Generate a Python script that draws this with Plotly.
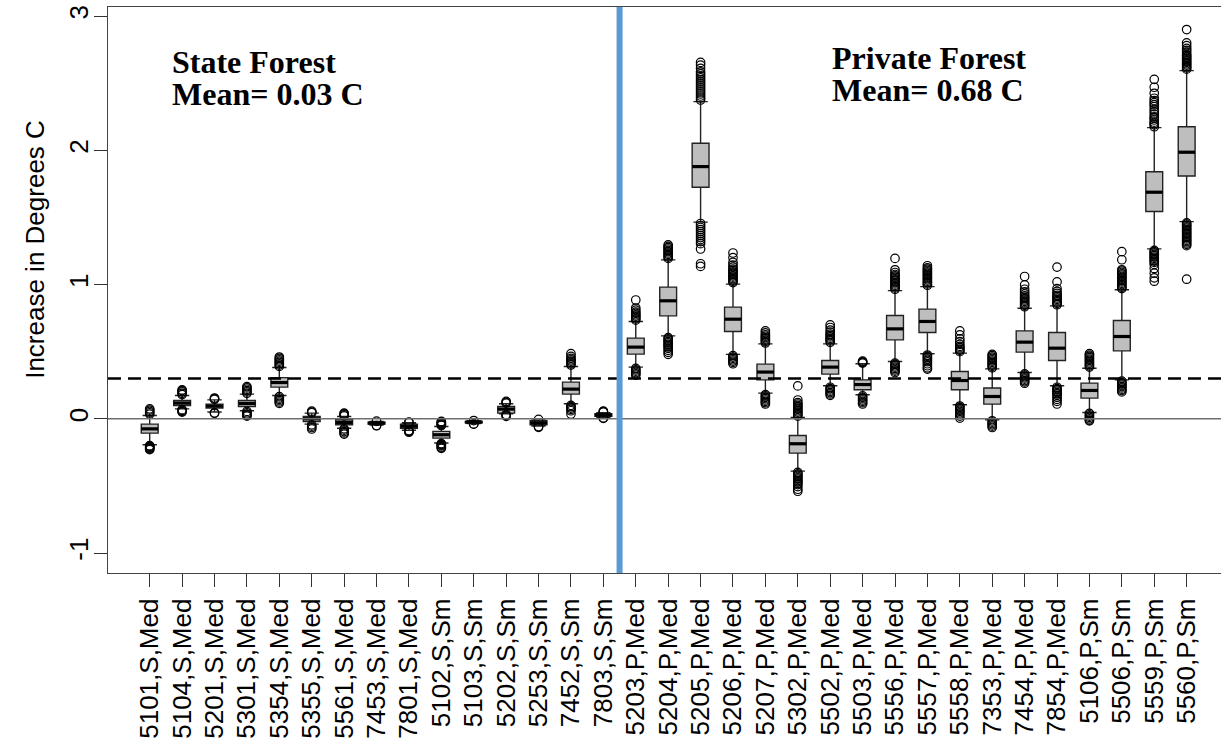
import plotly.graph_objects as go

labels = ["5101,S,Med", "5104,S,Med", "5201,S,Med", "5301,S,Med", "5354,S,Med",
          "5355,S,Med", "5561,S,Med", "7453,S,Med", "7801,S,Med", "5102,S,Sm",
          "5103,S,Sm", "5202,S,Sm", "5253,S,Sm", "7452,S,Sm", "7803,S,Sm",
          "5203,P,Med", "5204,P,Med", "5205,P,Med", "5206,P,Med", "5207,P,Med",
          "5302,P,Med", "5502,P,Med", "5503,P,Med", "5556,P,Med", "5557,P,Med",
          "5558,P,Med", "7353,P,Med", "7454,P,Med", "7854,P,Med", "5106,P,Sm",
          "5506,P,Sm", "5559,P,Sm", "5560,P,Sm"]

q1 = [-0.107, 0.099, 0.080, 0.092, 0.236, -0.020, -0.045, -0.040, -0.070, -0.144,
      -0.030, 0.042, -0.045, 0.184, 0.018,
      0.482, 0.767, 1.725, 0.650, 0.290, -0.256, 0.333, 0.216, 0.588, 0.643,
      0.216, 0.109, 0.497, 0.434, 0.154, 0.506, 1.544, 1.809]
medians = [-0.075, 0.117, 0.095, 0.114, 0.270, 0.000, -0.027, -0.032, -0.055, -0.119,
           -0.025, 0.072, -0.030, 0.221, 0.028,
           0.534, 0.879, 1.879, 0.742, 0.348, -0.186, 0.385, 0.255, 0.670, 0.725,
           0.285, 0.166, 0.571, 0.526, 0.211, 0.613, 1.688, 1.986]
q3 = [-0.040, 0.136, 0.109, 0.136, 0.307, 0.017, -0.007, -0.025, -0.040, -0.094,
      -0.020, 0.092, -0.015, 0.273, 0.038,
      0.601, 0.981, 2.053, 0.832, 0.407, -0.124, 0.434, 0.290, 0.769, 0.817,
      0.352, 0.229, 0.655, 0.643, 0.266, 0.732, 1.841, 2.176]
whisker_low = [-0.194, 0.074, 0.050, 0.060, 0.174, -0.040, -0.070, -0.047, -0.085, -0.180,
               -0.035, 0.037, -0.055, 0.112, 0.010,
               0.385, 0.618, 1.465, 0.480, 0.191, -0.390, 0.246, 0.179, 0.427, 0.484,
               0.104, -0.007, 0.345, 0.246, 0.047, 0.290, 1.266, 1.469]
whisker_high = [0.025, 0.174, 0.141, 0.184, 0.382, 0.042, 0.017, -0.020, -0.030, -0.057,
                -0.015, 0.112, -0.008, 0.390, 0.046,
                0.725, 1.184, 2.363, 1.003, 0.558, 0.010, 0.558, 0.410, 0.955, 0.985,
                0.489, 0.372, 0.824, 0.841, 0.377, 0.961, 2.169, 2.594]

outliers_high = [
    [0.035, 0.045, 0.055, 0.065, 0.074],
    [0.18, 0.19, 0.2, 0.21, 0.215],
    [0.145, 0.15, 0.155],
    [0.19, 0.2, 0.21, 0.22, 0.23, 0.24],
    [0.39, 0.4, 0.41, 0.42, 0.43, 0.44, 0.45, 0.46],
    [0.045, 0.05, 0.057],
    [0.022, 0.03, 0.036, 0.042],
    [-0.018],
    [-0.028, -0.025],
    [-0.05, -0.045, -0.04, -0.035, -0.03, -0.025, -0.02],
    [-0.013],
    [0.117, 0.122, 0.129],
    [-0.005],
    [0.4, 0.41, 0.42, 0.43, 0.44, 0.45, 0.465, 0.485],
    [0.05, 0.054, 0.057],
    [0.735, 0.745, 0.755, 0.765, 0.775, 0.785, 0.795, 0.81, 0.825, 0.885],
    [1.195, 1.205, 1.215, 1.225, 1.235, 1.245, 1.255, 1.265, 1.275, 1.285, 1.295],
    [2.375, 2.39, 2.405, 2.42, 2.435, 2.45, 2.465, 2.48, 2.495, 2.51, 2.525, 2.54,
     2.555, 2.57, 2.585, 2.61, 2.635, 2.655],
    [1.015, 1.025, 1.035, 1.045, 1.055, 1.065, 1.075, 1.085, 1.095, 1.105, 1.115,
     1.13, 1.145, 1.165, 1.2, 1.235],
    [0.565, 0.575, 0.585, 0.595, 0.605, 0.615, 0.625, 0.64, 0.655],
    [0.02, 0.03, 0.04, 0.05, 0.06, 0.07, 0.08, 0.09, 0.1, 0.11, 0.12, 0.14, 0.245],
    [0.57, 0.58, 0.59, 0.6, 0.61, 0.62, 0.63, 0.645, 0.66, 0.68, 0.7],
    [0.415, 0.42, 0.425, 0.43],
    [0.965, 0.975, 0.985, 0.995, 1.005, 1.015, 1.025, 1.035, 1.045, 1.055, 1.065,
     1.075, 1.09, 1.11, 1.195],
    [0.995, 1.005, 1.015, 1.025, 1.035, 1.045, 1.055, 1.065, 1.075, 1.085, 1.095,
     1.105, 1.115, 1.125, 1.14],
    [0.5, 0.51, 0.52, 0.53, 0.54, 0.555, 0.575, 0.595, 0.625, 0.655],
    [0.38, 0.39, 0.4, 0.41, 0.42, 0.43, 0.44, 0.45, 0.46, 0.47, 0.48],
    [0.835, 0.845, 0.855, 0.865, 0.875, 0.885, 0.895, 0.905, 0.915, 0.93, 0.945,
     0.965, 0.998, 1.06],
    [0.85, 0.86, 0.87, 0.88, 0.89, 0.9, 0.91, 0.92, 0.935, 0.95, 0.97, 1.02, 1.13],
    [0.385, 0.395, 0.405, 0.415, 0.425, 0.435, 0.445, 0.455, 0.465, 0.475, 0.485],
    [0.97, 0.98, 0.99, 1.0, 1.01, 1.02, 1.03, 1.04, 1.05, 1.06, 1.07, 1.08, 1.09,
     1.1, 1.11, 1.185, 1.245],
    [2.176, 2.19, 2.2, 2.21, 2.226, 2.24, 2.25, 2.27, 2.288, 2.305, 2.325, 2.34,
     2.355, 2.37, 2.388, 2.425, 2.47, 2.529],
    [2.605, 2.615, 2.625, 2.635, 2.645, 2.655, 2.665, 2.675, 2.685, 2.695, 2.705,
     2.715, 2.73, 2.745, 2.76, 2.78, 2.8, 2.9],
]
outliers_low = [
    [-0.2, -0.205, -0.21, -0.215, -0.22, -0.225, -0.23],
    [0.068, 0.062, 0.055, 0.05],
    [0.045, 0.04],
    [0.055, 0.045, 0.035, 0.025, 0.02],
    [0.165, 0.155, 0.145, 0.135, 0.125, 0.115],
    [-0.045, -0.055, -0.065, -0.076],
    [-0.075, -0.085, -0.095, -0.105, -0.114],
    [-0.05, -0.052],
    [-0.088, -0.092, -0.096, -0.1],
    [-0.185, -0.19, -0.195, -0.2, -0.21, -0.215, -0.22],
    [-0.038, -0.04],
    [0.032, 0.025, 0.018],
    [-0.058, -0.064],
    [0.1, 0.09, 0.08, 0.07, 0.06, 0.035],
    [0.007, 0.003],
    [0.375, 0.365, 0.355, 0.345, 0.335, 0.325],
    [0.605, 0.595, 0.585, 0.575, 0.565, 0.555, 0.545, 0.535, 0.525, 0.51, 0.495, 0.48],
    [1.455, 1.44, 1.425, 1.41, 1.395, 1.38, 1.365, 1.35, 1.335, 1.32, 1.305, 1.265,
     1.155, 1.135],
    [0.47, 0.46, 0.45, 0.44, 0.43, 0.42, 0.41],
    [0.18, 0.17, 0.16, 0.15, 0.14, 0.13, 0.12, 0.11],
    [-0.4, -0.41, -0.42, -0.43, -0.44, -0.45, -0.46, -0.47, -0.48, -0.49, -0.505,
     -0.525, -0.54],
    [0.235, 0.225, 0.215, 0.205, 0.195, 0.185, 0.175],
    [0.17, 0.16, 0.15, 0.14, 0.13, 0.12, 0.11],
    [0.415, 0.405, 0.395, 0.385, 0.375, 0.365, 0.355, 0.345],
    [0.475, 0.465, 0.455, 0.445, 0.435, 0.425, 0.41, 0.395, 0.38, 0.37],
    [0.095, 0.085, 0.075, 0.065, 0.055, 0.045, 0.035, 0.02, 0.005],
    [-0.015, -0.025, -0.035, -0.045, -0.055, -0.065],
    [0.335, 0.325, 0.315, 0.305, 0.295, 0.285, 0.275, 0.265],
    [0.235, 0.225, 0.215, 0.205, 0.195, 0.185, 0.175, 0.16, 0.145, 0.13, 0.11],
    [0.04, 0.03, 0.02, 0.01, 0.0, -0.01, -0.015],
    [0.28, 0.27, 0.26, 0.25, 0.24, 0.23, 0.22, 0.21, 0.2],
    [1.255, 1.245, 1.235, 1.225, 1.215, 1.205, 1.195, 1.185, 1.175, 1.165, 1.15,
     1.12, 1.085, 1.05, 1.025],
    [1.46, 1.45, 1.44, 1.43, 1.42, 1.41, 1.4, 1.39, 1.38, 1.37, 1.36, 1.35, 1.34,
     1.33, 1.32, 1.31, 1.3, 1.29, 1.04],
]

reference_level = 0.3
divider_at = 15.5
state_text = ["State Forest", "Mean= 0.03 C"]
private_text = ["Private Forest", "Mean= 0.68 C"]

positions = list(range(1, len(labels) + 1))
box_w = 0.52

fig = go.Figure()

fig.add_trace(go.Box(
    x=positions, q1=q1, median=medians, q3=q3,
    lowerfence=whisker_low, upperfence=whisker_high,
    width=box_w, whiskerwidth=0.85,
    fillcolor="#BEBEBE", line=dict(color="#222222", width=1.4),
    boxpoints=False, showlegend=False, hoverinfo="skip",
))

# thick median bars
mx, my = [], []
for p, m in zip(positions, medians):
    mx += [p - box_w / 2, p + box_w / 2, None]
    my += [m, m, None]
fig.add_trace(go.Scatter(x=mx, y=my, mode="lines",
                         line=dict(color="black", width=3.2),
                         showlegend=False, hoverinfo="skip"))

# outliers
ox, oy = [], []
for p, hi, lo in zip(positions, outliers_high, outliers_low):
    for v in hi + lo:
        ox.append(p)
        oy.append(v)
fig.add_trace(go.Scatter(x=ox, y=oy, mode="markers",
                         marker=dict(symbol="circle-open", size=8.5, color="black",
                                     line=dict(width=1.2)),
                         showlegend=False, hoverinfo="skip"))

shapes = [
    dict(type="line", xref="paper", yref="y", x0=0, x1=1, y0=0, y1=0,
         line=dict(color="#6E6E6E", width=1.6), layer="above"),
    dict(type="line", xref="paper", yref="y", x0=0, x1=1,
         y0=reference_level, y1=reference_level,
         line=dict(color="black", width=2.6, dash="13px,7px"), layer="above"),
    dict(type="line", xref="x", yref="paper", x0=divider_at, x1=divider_at, y0=0, y1=1,
         line=dict(color="#5B9BD5", width=6), layer="above"),
]

serif = "Liberation Serif, Times New Roman, serif"
ann = []
for i, t in enumerate(state_text):
    ann.append(dict(x=1.62, y=[2.66, 2.42][i], xref="x", yref="y", text="<b>%s</b>" % t,
                    showarrow=False, xanchor="left", yanchor="middle",
                    font=dict(family=serif, size=32, color="black")))
for i, t in enumerate(private_text):
    ann.append(dict(x=21.99, y=[2.69, 2.45][i], xref="x", yref="y", text="<b>%s</b>" % t,
                    showarrow=False, xanchor="left", yanchor="middle",
                    font=dict(family=serif, size=32, color="black")))
ann.append(dict(x=-0.0656, y=0.5727, xref="paper", yref="paper",
                text="Increase in Degrees C", textangle=-90, showarrow=False,
                xanchor="center", yanchor="middle",
                font=dict(family="Liberation Sans, Arial, sans-serif", size=26,
                          color="black")))

sans = "Liberation Sans, Arial, sans-serif"
fig.update_layout(
    width=1221, height=740,
    margin=dict(l=108, r=0, t=7, b=167, autoexpand=False),
    paper_bgcolor="white", plot_bgcolor="white",
    shapes=shapes, annotations=ann,
    font=dict(family=sans, size=26, color="black"),
    xaxis=dict(range=[-0.287, 34.06], tickmode="array", tickvals=positions,
               ticktext=labels, tickangle=-90, ticks="outside", ticklen=13,
               tickcolor="#333", tickwidth=1.2, showline=True, linecolor="#444",
               linewidth=1.3, mirror=True, showgrid=False, zeroline=False,
               automargin=False, ticklabeloverflow="allow",
               ticklabelstandoff=1, tickfont=dict(family=sans, size=26)),
    yaxis=dict(range=[-1.149, 3.068], tickmode="array", tickvals=[-1, 0, 1, 2, 3],
               ticktext=["-1", "0", "1", "2", "3"], tickangle=-90, ticks="outside",
               ticklen=13, tickcolor="#333", tickwidth=1.2, showline=True,
               linecolor="#444", linewidth=1.3, mirror=True, showgrid=False,
               zeroline=False, automargin=False, ticklabeloverflow="allow",
               ticklabelstandoff=-5, tickfont=dict(family=sans, size=26)),
)

fig.write_html("out.html",
               config={"displayModeBar": False},
               post_script="document.body.style.margin='0';"
                           "document.body.style.overflow='hidden';")
